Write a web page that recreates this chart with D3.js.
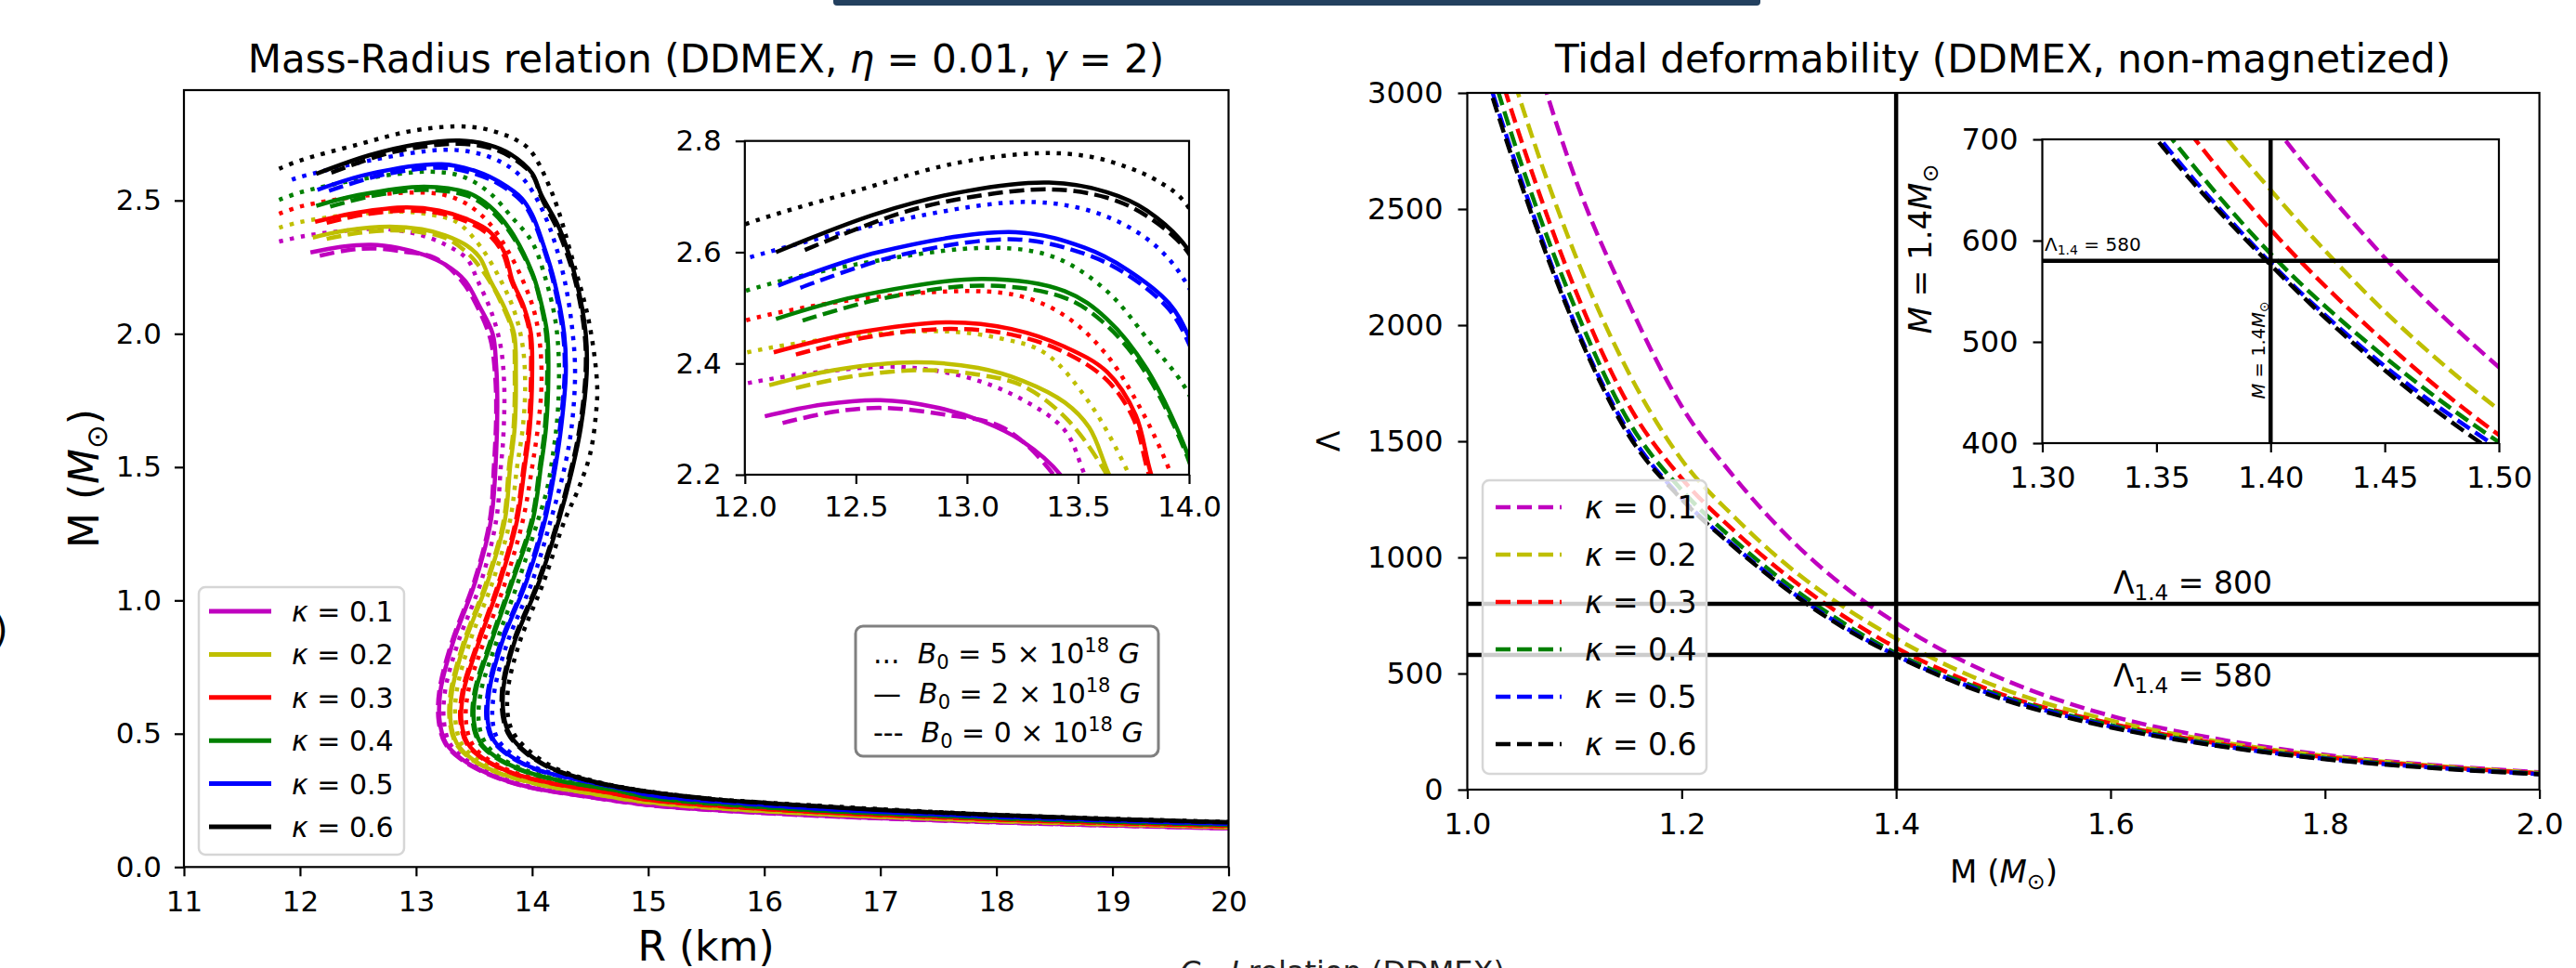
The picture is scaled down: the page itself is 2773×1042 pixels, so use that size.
<!DOCTYPE html>
<html>
<head>
<meta charset="utf-8">
<script src="https://cdn.jsdelivr.net/npm/d3@7"></script>
<style>
  body { margin: 0; background: #fff; }
  svg text { font-family: "DejaVu Sans", sans-serif; white-space: pre; }
</style>
</head>
<body>
<svg id="fig" width="2773" height="1042"></svg>
<script>
// ---------- data: mass-radius curves [R (km), M (Msun)] ----------
// B5 = 5e18 G (dotted), B2 = 2e18 G (solid), B0 = 0 G (dashed)
const mr_k1_B5 = [[11.82,2.346],[12.03,2.366],[12.35,2.385],[12.69,2.394],[13.0,2.375],[13.25,2.335],[13.44,2.28],[13.53,2.2],[13.65,2.08],[13.73,1.95],[13.76,1.8],[13.75,1.6],[13.73,1.5],[13.69,1.30],[13.56,1.07],[13.36,0.84],[13.25,0.66],[13.24,0.546],[13.29,0.464],[13.42,0.406],[13.66,0.348],[13.98,0.302],[14.45,0.267],[15,0.234],[16,0.204],[18,0.168],[20,0.146]];
const mr_k1_B2 = [[12.09,2.305],[12.35,2.326],[12.61,2.334],[12.85,2.322],[13.07,2.296],[13.25,2.26],[13.42,2.20],[13.55,2.10],[13.66,2.0],[13.69,1.88],[13.70,1.75],[13.69,1.55],[13.645,1.30],[13.51,1.07],[13.316,0.84],[13.21,0.66],[13.204,0.546],[13.258,0.464],[13.39,0.406],[13.63,0.348],[13.95,0.302],[14.43,0.267],[15,0.233],[16,0.203],[17,0.183],[18,0.168],[19,0.156],[20,0.145]];
const mr_k1_B0 = [[12.17,2.293],[12.4,2.313],[12.62,2.32],[12.9,2.308],[13.16,2.285],[13.39,2.2],[13.54,2.09],[13.64,1.98],[13.68,1.85],[13.69,1.7],[13.67,1.5],[13.635,1.30],[13.50,1.07],[13.305,0.84],[13.2,0.66],[13.195,0.546],[13.25,0.464],[13.38,0.406],[13.62,0.348],[13.94,0.302],[14.42,0.267],[15,0.232],[16,0.202],[18,0.167],[20,0.145]];

const mr_k2_B5 = [[11.82,2.398],[12.0,2.419],[12.4,2.445],[12.88,2.458],[13.15,2.445],[13.35,2.419],[13.55,2.33],[13.73,2.2],[13.85,2.08],[13.92,1.95],[13.94,1.8],[13.92,1.65],[13.87,1.5],[13.81,1.30],[13.66,1.07],[13.46,0.84],[13.35,0.66],[13.34,0.546],[13.39,0.464],[13.52,0.406],[13.75,0.352],[14.09,0.31],[14.57,0.273],[15,0.244],[16,0.211],[18,0.173],[20,0.15]];
const mr_k2_B2 = [[12.11,2.361],[12.4,2.388],[12.77,2.402],[13.05,2.392],[13.25,2.369],[13.44,2.33],[13.55,2.285],[13.64,2.20],[13.76,2.10],[13.845,2.0],[13.86,1.85],[13.85,1.65],[13.81,1.5],[13.765,1.30],[13.617,1.07],[13.418,0.84],[13.31,0.66],[13.298,0.546],[13.351,0.464],[13.48,0.406],[13.72,0.352],[14.06,0.31],[14.55,0.273],[15,0.243],[16,0.21],[17,0.189],[18,0.173],[19,0.161],[20,0.15]];
const mr_k2_B0 = [[12.23,2.356],[12.5,2.378],[12.81,2.388],[13.05,2.38],[13.25,2.36],[13.45,2.3],[13.63,2.2],[13.75,2.1],[13.835,2.0],[13.85,1.85],[13.84,1.65],[13.80,1.5],[13.755,1.30],[13.607,1.07],[13.408,0.84],[13.3,0.66],[13.29,0.546],[13.343,0.464],[13.47,0.406],[13.71,0.352],[14.05,0.31],[14.54,0.273],[15,0.242],[16,0.209],[18,0.172],[20,0.149]];

const mr_k3_B5 = [[11.82,2.45],[12.0,2.477],[12.5,2.515],[13.03,2.53],[13.25,2.52],[13.44,2.486],[13.62,2.42],[13.78,2.32],[13.92,2.2],[14.02,2.08],[14.07,1.95],[14.08,1.8],[14.05,1.65],[14.0,1.5],[13.92,1.30],[13.77,1.07],[13.58,0.84],[13.45,0.66],[13.43,0.546],[13.48,0.464],[13.60,0.41],[13.84,0.356],[14.18,0.316],[14.67,0.28],[15,0.254],[16,0.219],[18,0.179],[20,0.154]];
const mr_k3_B2 = [[12.13,2.42],[12.5,2.455],[12.92,2.474],[13.2,2.462],[13.44,2.43],[13.63,2.385],[13.76,2.307],[13.83,2.2],[13.93,2.1],[13.99,2.0],[14.0,1.85],[13.98,1.65],[13.936,1.5],[13.87,1.30],[13.724,1.07],[13.538,0.84],[13.41,0.66],[13.391,0.546],[13.444,0.464],[13.57,0.41],[13.81,0.356],[14.15,0.316],[14.65,0.28],[15,0.253],[16,0.218],[17,0.195],[18,0.179],[19,0.166],[20,0.154]];
const mr_k3_B0 = [[12.23,2.416],[12.55,2.447],[12.92,2.462],[13.2,2.452],[13.44,2.42],[13.63,2.37],[13.75,2.3],[13.82,2.2],[13.92,2.1],[13.98,2.0],[13.99,1.85],[13.97,1.65],[13.926,1.5],[13.86,1.30],[13.714,1.07],[13.528,0.84],[13.4,0.66],[13.382,0.546],[13.435,0.464],[13.56,0.41],[13.8,0.356],[14.14,0.316],[14.64,0.28],[15,0.252],[16,0.217],[18,0.178],[20,0.153]];

const mr_k4_B5 = [[11.82,2.502],[12.0,2.53],[12.5,2.578],[13.12,2.608],[13.4,2.59],[13.63,2.53],[13.82,2.44],[14.0,2.344],[14.12,2.2],[14.2,2.05],[14.23,1.9],[14.22,1.7],[14.18,1.55],[14.13,1.42],[14.05,1.30],[13.88,1.07],[13.69,0.84],[13.56,0.66],[13.54,0.546],[13.59,0.47],[13.71,0.415],[13.95,0.362],[14.29,0.322],[14.77,0.286],[15,0.263],[16,0.226],[18,0.184],[20,0.159]];
const mr_k4_B2 = [[12.14,2.48],[12.5,2.52],[13.07,2.552],[13.44,2.53],[13.63,2.48],[13.81,2.39],[14.0,2.23],[14.07,2.13],[14.13,2.0],[14.14,1.85],[14.12,1.65],[14.075,1.5],[14.005,1.30],[13.83,1.07],[13.645,0.84],[13.515,0.66],[13.498,0.546],[13.55,0.47],[13.68,0.415],[13.92,0.362],[14.26,0.322],[14.75,0.286],[15,0.262],[16,0.225],[17,0.201],[18,0.184],[19,0.17],[20,0.159]];
const mr_k4_B0 = [[12.26,2.477],[12.6,2.515],[13.07,2.54],[13.44,2.518],[13.63,2.468],[13.81,2.38],[14.0,2.224],[14.07,2.12],[14.12,2.0],[14.13,1.85],[14.11,1.65],[14.065,1.5],[13.995,1.30],[13.82,1.07],[13.635,0.84],[13.505,0.66],[13.488,0.546],[13.54,0.47],[13.67,0.415],[13.91,0.362],[14.25,0.322],[14.74,0.286],[15,0.261],[16,0.224],[18,0.183],[20,0.158]];

const mr_k5_B5 = [[11.93,2.578],[12.0,2.588],[12.6,2.65],[13.22,2.69],[13.5,2.68],[13.72,2.647],[13.88,2.6],[14.0,2.536],[14.15,2.4],[14.28,2.2],[14.35,2.0],[14.37,1.85],[14.34,1.65],[14.28,1.5],[14.16,1.30],[14.0,1.07],[13.785,0.84],[13.675,0.66],[13.66,0.546],[13.71,0.475],[13.84,0.42],[14.07,0.366],[14.4,0.33],[14.85,0.29],[15,0.273],[16,0.234],[18,0.19],[20,0.163]];
const mr_k5_B2 = [[12.15,2.54],[12.6,2.6],[13.22,2.636],[13.53,2.608],[13.72,2.569],[13.91,2.508],[14.0,2.447],[14.1,2.33],[14.19,2.2],[14.276,2.0],[14.29,1.85],[14.25,1.65],[14.2,1.5],[14.11,1.30],[13.95,1.07],[13.738,0.84],[13.63,0.66],[13.618,0.546],[13.67,0.475],[13.80,0.42],[14.04,0.366],[14.37,0.33],[14.82,0.29],[15,0.272],[16,0.233],[17,0.207],[18,0.189],[19,0.175],[20,0.163]];
const mr_k5_B0 = [[12.25,2.536],[12.7,2.595],[13.22,2.623],[13.53,2.597],[13.72,2.56],[13.91,2.497],[14.0,2.435],[14.1,2.32],[14.18,2.2],[14.266,2.0],[14.28,1.85],[14.24,1.65],[14.19,1.5],[14.1,1.30],[13.94,1.07],[13.728,0.84],[13.62,0.66],[13.608,0.546],[13.66,0.475],[13.79,0.42],[14.03,0.366],[14.36,0.33],[14.81,0.29],[15,0.271],[16,0.232],[18,0.188],[20,0.162]];

const mr_k6_B5 = [[11.82,2.619],[12.0,2.65],[12.5,2.71],[12.95,2.76],[13.33,2.778],[13.55,2.772],[13.72,2.753],[13.85,2.73],[13.98,2.69],[14.17,2.53],[14.35,2.276],[14.49,2.044],[14.56,1.81],[14.55,1.7],[14.5,1.55],[14.4,1.42],[14.28,1.30],[14.1,1.07],[13.89,0.84],[13.79,0.66],[13.8,0.546],[13.86,0.488],[13.99,0.43],[14.2,0.371],[14.51,0.325],[14.9,0.29],[15.55,0.256],[16,0.242],[18,0.196],[20,0.169]];
const mr_k6_B2 = [[12.14,2.60],[12.6,2.67],[13.0,2.71],[13.37,2.725],[13.63,2.708],[13.81,2.675],[14.0,2.602],[14.08,2.52],[14.24,2.39],[14.38,2.2],[14.462,2.0],[14.47,1.85],[14.42,1.65],[14.35,1.5],[14.23,1.30],[14.06,1.07],[13.845,0.84],[13.75,0.66],[13.765,0.546],[13.82,0.488],[13.95,0.43],[14.165,0.371],[14.485,0.325],[14.885,0.29],[15.55,0.255],[16,0.241],[17,0.214],[18,0.195],[19,0.18],[20,0.168]];
const mr_k6_B0 = [[12.27,2.604],[12.7,2.67],[13.0,2.698],[13.37,2.713],[13.63,2.698],[13.81,2.665],[14.0,2.597],[14.08,2.51],[14.23,2.38],[14.37,2.2],[14.452,2.0],[14.46,1.85],[14.41,1.65],[14.34,1.5],[14.22,1.30],[14.05,1.07],[13.835,0.84],[13.74,0.66],[13.755,0.546],[13.81,0.488],[13.94,0.43],[14.155,0.371],[14.475,0.325],[14.875,0.29],[15.55,0.254],[16,0.24],[18,0.194],[20,0.167]];

// ---------- data: tidal deformability, Lambda vs M ----------
const massGrid  = [1.00, 1.05, 1.10, 1.15, 1.20, 1.25, 1.30, 1.35, 1.40, 1.45, 1.50, 1.60, 1.70, 1.80, 1.90, 2.00];
const lambda_k1 = [4300, 3380, 2640, 2100, 1650, 1340, 1085, 880, 718, 583, 475, 318, 218, 150, 106, 75];
const lambda_k2 = [3750, 2960, 2310, 1800, 1420, 1170, 960, 790, 650, 530, 433, 298, 207, 145, 103, 72];
const lambda_k3 = [3550, 2800, 2160, 1660, 1340, 1110, 915, 750, 611, 500, 408, 285, 199, 140, 100, 70];
const lambda_k4 = [3450, 2700, 2080, 1590, 1290, 1070, 880, 720, 587, 485, 401, 278, 194, 136, 97, 68];
const lambda_k5 = [3350, 2630, 2010, 1545, 1255, 1045, 860, 705, 578, 476, 395, 272, 190, 133, 95, 67];
const lambda_k6 = [3330, 2610, 2000, 1530, 1250, 1040, 855, 700, 576, 472, 388, 268, 188, 131, 93, 66];

const kappaLabels = ['0.1', '0.2', '0.3', '0.4', '0.5', '0.6'];
const bFieldLabels = ['5', '2', '0'];
const bFieldMarks = ['...', '\u2014', '---'];
const lambdaRefs = [800, 580];
const massRef = 1.4;

// ticks
const mrXTicks = [11, 12, 13, 14, 15, 16, 17, 18, 19, 20];
const mrYTicks = [0, 0.5, 1.0, 1.5, 2.0, 2.5];
const mrInXTicks = [12.0, 12.5, 13.0, 13.5, 14.0];
const mrInYTicks = [2.2, 2.4, 2.6, 2.8];
const tdXTicks = [1.0, 1.2, 1.4, 1.6, 1.8, 2.0];
const tdYTicks = [0, 500, 1000, 1500, 2000, 2500, 3000];
const tdInXTicks = [1.30, 1.35, 1.40, 1.45, 1.50];
const tdInYTicks = [400, 500, 600, 700];

// ---------- styles ----------
const kColors = ['#bf00bf', '#bfbf00', '#ff0000', '#008000', '#0000ff', '#000000'];
const bDash = ['4.5,7.4', null, '16,7'];
const mrSeries = [
  [mr_k1_B5, mr_k1_B2, mr_k1_B0],
  [mr_k2_B5, mr_k2_B2, mr_k2_B0],
  [mr_k3_B5, mr_k3_B2, mr_k3_B0],
  [mr_k4_B5, mr_k4_B2, mr_k4_B0],
  [mr_k5_B5, mr_k5_B2, mr_k5_B0],
  [mr_k6_B5, mr_k6_B2, mr_k6_B0]
];
const tdSeries = [lambda_k1, lambda_k2, lambda_k3, lambda_k4, lambda_k5, lambda_k6]
  .map(arr => arr.map((v, i) => [massGrid[i], v]));

const svg = d3.select('#fig');
svg.append('rect').attr('width', 2773).attr('height', 1042).attr('fill', '#fff');
const defs = svg.append('defs');

function panel(box, xDom, yDom, id) {
  const x = d3.scaleLinear().domain(xDom).range([box.x0, box.x1]);
  const y = d3.scaleLinear().domain(yDom).range([box.y1, box.y0]);
  defs.append('clipPath').attr('id', id).append('rect')
    .attr('x', box.x0).attr('y', box.y0)
    .attr('width', box.x1 - box.x0).attr('height', box.y1 - box.y0);
  return { x, y, box, clip: `url(#${id})` };
}

function styleAxis(a, fs) {
  a.attr('font-family', '"DejaVu Sans", sans-serif').attr('font-size', fs);
  a.select('.domain').remove();
  a.selectAll('.tick line').attr('stroke', '#000').attr('stroke-width', 2.2);
  a.selectAll('.tick text').attr('fill', '#000');
}

function decorate(ax, xTicks, yTicks, xFmt, yFmt, fs, xPad, yPad) {
  const g = svg.append('g');
  g.append('g').attr('transform', `translate(0,${ax.box.y1})`)
    .call(d3.axisBottom(ax.x).tickValues(xTicks).tickFormat(xFmt).tickSize(10).tickPadding(xPad))
    .call(styleAxis, fs);
  g.append('g').attr('transform', `translate(${ax.box.x0},0)`)
    .call(d3.axisLeft(ax.y).tickValues(yTicks).tickFormat(yFmt).tickSize(10).tickPadding(yPad))
    .call(styleAxis, fs);
  g.append('rect')
    .attr('x', ax.box.x0).attr('y', ax.box.y0)
    .attr('width', ax.box.x1 - ax.box.x0).attr('height', ax.box.y1 - ax.box.y0)
    .attr('fill', 'none').attr('stroke', '#000').attr('stroke-width', 2.2);
}

// text with italic / sub / sup pieces
function rich(sel, parts, fs) {
  let shift = 0;
  parts.forEach(p => {
    const ts = sel.append('tspan').text(p.t);
    if (p.it) ts.attr('font-style', 'italic');
    const s = p.sub ? 0.2 * fs : p.sup ? -0.4 * fs : 0;
    if (s - shift) ts.attr('dy', s - shift);
    shift = s;
    if (p.sub || p.sup) ts.attr('font-size', fs * 0.7);
  });
  return sel;
}
function label(parent, x, y, fs, parts, opts = {}) {
  const t = parent.append('text').attr('x', x).attr('y', y)
    .attr('font-size', fs).attr('fill', opts.fill || '#000')
    .attr('text-anchor', opts.anchor || 'start');
  if (opts.rotate) t.attr('transform', `rotate(${opts.rotate},${x},${y})`);
  return rich(t, parts, fs);
}

// ================= left: mass-radius =================
const mr = panel({ x0: 198, x1: 1322.5, y0: 97, y1: 933.3 }, [11, 20], [0, 2.914], 'clipMR');
const mrLine = d3.line().x(d => mr.x(d[0])).y(d => mr.y(d[1])).curve(d3.curveCatmullRom.alpha(0.5));

const mrG = svg.append('g').attr('clip-path', mr.clip);
mrSeries.forEach((trip, k) => {
  trip.forEach((pts, b) => {
    mrG.append('path').attr('d', mrLine(pts))
      .attr('fill', 'none').attr('stroke', kColors[k]).attr('stroke-width', 4.5)
      .attr('stroke-dasharray', bDash[b]);
  });
});
decorate(mr, mrXTicks, mrYTicks, d3.format('d'), d3.format('.1f'), 31, 16, 14);

// inset
const mrIn = panel({ x0: 801.8, x1: 1280, y0: 151.7, y1: 511 }, [12, 14], [2.2, 2.8], 'clipMRin');
svg.append('rect').attr('x', mrIn.box.x0).attr('y', mrIn.box.y0)
  .attr('width', mrIn.box.x1 - mrIn.box.x0).attr('height', mrIn.box.y1 - mrIn.box.y0).attr('fill', '#fff');
const mrInLine = d3.line().x(d => mrIn.x(d[0])).y(d => mrIn.y(d[1])).curve(d3.curveCatmullRom.alpha(0.5));
const mrInG = svg.append('g').attr('clip-path', mrIn.clip);
mrSeries.forEach((trip, k) => {
  trip.forEach((pts, b) => {
    mrInG.append('path').attr('d', mrInLine(pts))
      .attr('fill', 'none').attr('stroke', kColors[k]).attr('stroke-width', 4.5)
      .attr('stroke-dasharray', bDash[b]);
  });
});
decorate(mrIn, mrInXTicks, mrInYTicks, d3.format('.1f'), d3.format('.1f'), 31, 13, 15);

// kappa legend
const legL = svg.append('g');
legL.append('rect').attr('x', 214).attr('y', 632).attr('width', 221).attr('height', 288)
  .attr('rx', 7).attr('fill', '#fff').attr('fill-opacity', 0.8)
  .attr('stroke', '#d6d6d6').attr('stroke-width', 2.5);
kappaLabels.forEach((k, i) => {
  const cy = 658 + i * 46.4;
  legL.append('line').attr('x1', 225).attr('x2', 292).attr('y1', cy).attr('y2', cy)
    .attr('stroke', kColors[i]).attr('stroke-width', 5);
  label(legL, 314, cy + 11, 30, [{ t: 'κ', it: true }, { t: ' = ' + k }]);
});

// B-field legend (text only)
const legB = svg.append('g');
legB.append('rect').attr('x', 921).attr('y', 674).attr('width', 326).attr('height', 140)
  .attr('rx', 8).attr('fill', '#fff').attr('fill-opacity', 0.8)
  .attr('stroke', '#808080').attr('stroke-width', 3);
bFieldLabels.forEach((b, i) => {
  const cy = 703 + i * 42.5;
  label(legB, 940, cy + 11, 30, [
    { t: bFieldMarks[i] + '  ' }, { t: 'B', it: true }, { t: '0', sub: true },
    { t: ' = ' + b + ' × 10' }, { t: '18', sup: true }, { t: ' ' }, { t: 'G', it: true }
  ]);
});

label(svg, 760, 78, 42, [
  { t: 'Mass-Radius relation (DDMEX, ' }, { t: 'η', it: true }, { t: ' = 0.01, ' },
  { t: 'γ', it: true }, { t: ' = 2)' }
], { anchor: 'middle' });
label(svg, 760, 1034, 44, [{ t: 'R (km)' }], { anchor: 'middle' });
label(svg, 106, 515, 44, [{ t: 'M (' }, { t: 'M', it: true }, { t: '⊙', sub: true }, { t: ')' }],
  { anchor: 'middle', rotate: -90 });

// ================= right: tidal deformability =================
const td = panel({ x0: 1579.5, x1: 2733.6, y0: 100, y1: 850 }, [1, 2], [0, 3000], 'clipTD');
const tdLine = d3.line().x(d => td.x(d[0])).y(d => td.y(d[1])).curve(d3.curveMonotoneX);
const tdG = svg.append('g').attr('clip-path', td.clip);
tdSeries.forEach((pts, k) => {
  tdG.append('path').attr('d', tdLine(pts)).attr('fill', 'none')
    .attr('stroke', kColors[k]).attr('stroke-width', 4.5).attr('stroke-dasharray', '16,7');
});
tdG.append('line').attr('x1', td.x(massRef)).attr('x2', td.x(massRef))
  .attr('y1', td.y(0)).attr('y2', td.y(3000)).attr('stroke', '#000').attr('stroke-width', 4.5);
lambdaRefs.forEach(v => {
  tdG.append('line').attr('x1', td.x(1)).attr('x2', td.x(2))
    .attr('y1', td.y(v)).attr('y2', td.y(v)).attr('stroke', '#000').attr('stroke-width', 4.5);
});
decorate(td, tdXTicks, tdYTicks, d3.format('.1f'), d3.format('d'), 32, 15, 16);

label(svg, 2275, 639, 33, [{ t: 'Λ' }, { t: '1.4', sub: true }, { t: ' = ' + lambdaRefs[0] }]);
label(svg, 2275, 739, 33, [{ t: 'Λ' }, { t: '1.4', sub: true }, { t: ' = ' + lambdaRefs[1] }]);
label(svg, 2079, 268, 34, [{ t: 'M', it: true }, { t: ' = 1.4' }, { t: 'M', it: true }, { t: '⊙', sub: true }],
  { anchor: 'middle', rotate: -90 });

// inset
const tdIn = panel({ x0: 2198.5, x1: 2690, y0: 150, y1: 477 }, [1.3, 1.5], [400, 700], 'clipTDin');
svg.append('rect').attr('x', tdIn.box.x0).attr('y', tdIn.box.y0)
  .attr('width', tdIn.box.x1 - tdIn.box.x0).attr('height', tdIn.box.y1 - tdIn.box.y0).attr('fill', '#fff');
const tdInLine = d3.line().x(d => tdIn.x(d[0])).y(d => tdIn.y(d[1])).curve(d3.curveMonotoneX);
const tdInG = svg.append('g').attr('clip-path', tdIn.clip);
tdSeries.forEach((pts, k) => {
  tdInG.append('path').attr('d', tdInLine(pts)).attr('fill', 'none')
    .attr('stroke', kColors[k]).attr('stroke-width', 4.5).attr('stroke-dasharray', '16,7');
});
tdInG.append('line').attr('x1', tdIn.x(massRef)).attr('x2', tdIn.x(massRef))
  .attr('y1', tdIn.y(400)).attr('y2', tdIn.y(700)).attr('stroke', '#000').attr('stroke-width', 4.5);
tdInG.append('line').attr('x1', tdIn.x(1.3)).attr('x2', tdIn.x(1.5))
  .attr('y1', tdIn.y(lambdaRefs[1])).attr('y2', tdIn.y(lambdaRefs[1])).attr('stroke', '#000').attr('stroke-width', 4.5);
decorate(tdIn, tdInXTicks, tdInYTicks, d3.format('.2f'), d3.format('d'), 32, 15, 16);
label(svg, 2201, 270, 20, [{ t: 'Λ' }, { t: '1.4', sub: true }, { t: ' = ' + lambdaRefs[1] }]);
label(svg, 2438, 377, 19.5, [{ t: 'M', it: true }, { t: ' = 1.4' }, { t: 'M', it: true }, { t: '⊙', sub: true }],
  { anchor: 'middle', rotate: -90 });

// kappa legend (dashed)
const legR = svg.append('g');
legR.append('rect').attr('x', 1596).attr('y', 517).attr('width', 241).attr('height', 316)
  .attr('rx', 7).attr('fill', '#fff').attr('fill-opacity', 0.8)
  .attr('stroke', '#d6d6d6').attr('stroke-width', 2.5);
kappaLabels.forEach((k, i) => {
  const cy = 546 + i * 51;
  legR.append('line').attr('x1', 1610).attr('x2', 1681).attr('y1', cy).attr('y2', cy)
    .attr('stroke', kColors[i]).attr('stroke-width', 4.5).attr('stroke-dasharray', '16,7');
  label(legR, 1706, cy + 12, 33, [{ t: 'κ', it: true }, { t: ' = ' + k }]);
});

label(svg, 2156, 78, 42, [{ t: 'Tidal deformability (DDMEX, non-magnetized)' }], { anchor: 'middle' });
label(svg, 2157, 950, 34, [{ t: 'M (' }, { t: 'M', it: true }, { t: '⊙', sub: true }, { t: ')' }], { anchor: 'middle' });
label(svg, 1442, 475, 33, [{ t: 'Λ' }], { anchor: 'middle', rotate: -90 });

// ---- page fragments around the figure ----
svg.append('rect').attr('x', 897).attr('y', -6).attr('width', 998).attr('height', 12)
  .attr('rx', 4).attr('fill', '#23405f');
label(svg, -7, 692, 40, [{ t: ')' }]);
label(svg, 1270, 1057, 32, [{ t: 'C', it: true }, { t: ' - ' }, { t: 'I', it: true }, { t: ' relation (DDMEX)' }], { fill: '#222' });
</script>
</body>
</html>
